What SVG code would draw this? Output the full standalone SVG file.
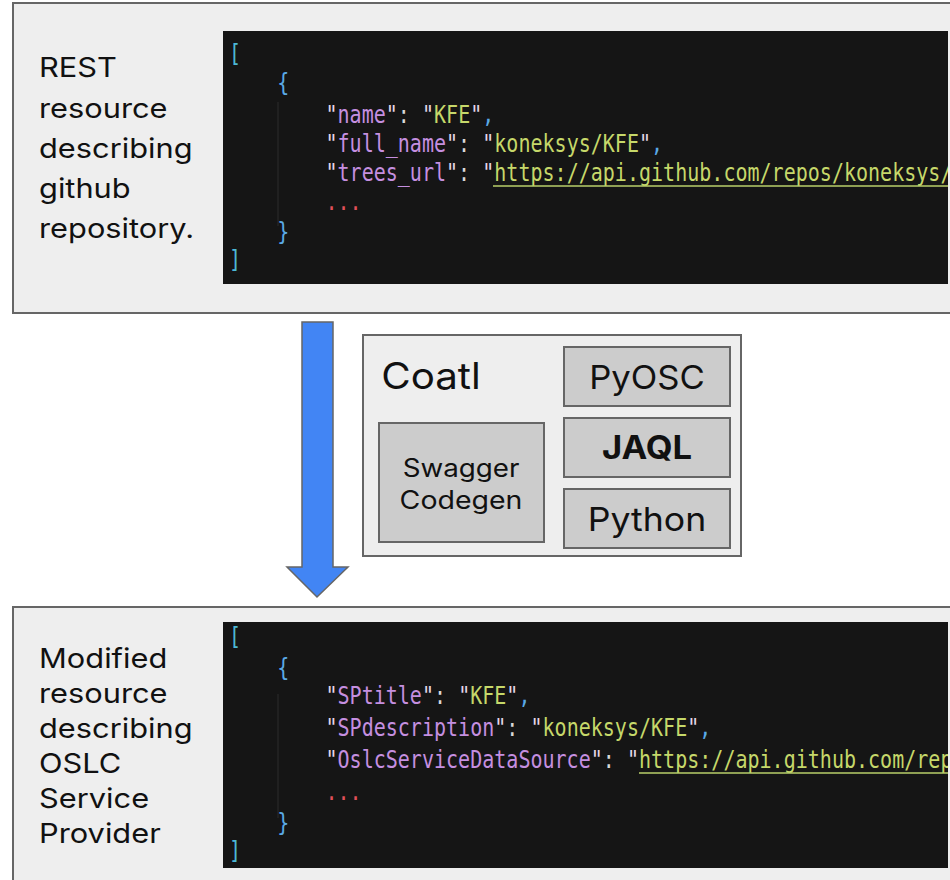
<svg xmlns="http://www.w3.org/2000/svg" width="950" height="880" viewBox="0 0 950 880">
<defs>
<style>
.panel{fill:#eeeeee;stroke:#666666;stroke-width:2}
.code{fill:#151515}
.lbl{font-family:Inter,"Open Sans","Liberation Sans",sans-serif;font-size:27.5px;fill:#111111}
.mono{font-family:"DejaVu Sans Mono","Liberation Mono",monospace;font-size:24px}
.br{fill:#4cb8d6}
.cb{fill:#5aa9e6}
.k{fill:#c58fe0}
.q{fill:#e3d6e6}
.s{fill:#c6d86a}
.p{fill:#d8d8d8}
.cm{fill:#5aa9e6}
.dots{fill:#e0505a}
.ul{stroke:#b9cf6a;stroke-width:1.5}
.guide{stroke:#2c2c2c;stroke-width:1}
.tool{fill:#cccccc;stroke:#666666;stroke-width:2}
.tt{font-family:Inter,"Open Sans","Liberation Sans",sans-serif;fill:#111111;text-anchor:middle}
</style>
<clipPath id="clipTop"><rect x="223" y="31" width="725" height="253"/></clipPath>
<clipPath id="clipBot"><rect x="223" y="622" width="725" height="246"/></clipPath>
</defs>
<rect width="950" height="880" fill="#ffffff"/>

<g id="rest-resource">
<rect class="panel" x="13" y="3" width="945" height="310"/>
<g transform="translate(39,0) scale(1.12,1)">
<text class="lbl" x="0" y="77">REST</text>
<text class="lbl" x="0" y="118">resource</text>
<text class="lbl" x="0" y="158">describing</text>
<text class="lbl" x="0" y="198">github</text>
<text class="lbl" x="0" y="238">repository.</text>
</g>
<rect class="code" x="223" y="31" width="725" height="253"/>
<g clip-path="url(#clipTop)">
<line class="guide" x1="278" y1="102" x2="278" y2="226"/>
<g transform="translate(229,0) scale(0.835,1)" class="mono">
<text y="62" xml:space="preserve"><tspan class="br">[</tspan></text>
<text y="91" xml:space="preserve"><tspan class="cb">    {</tspan></text>
<text y="123" xml:space="preserve">        <tspan class="q">"</tspan><tspan class="k">name</tspan><tspan class="q">"</tspan><tspan class="p">: </tspan><tspan class="q">"</tspan><tspan class="s">KFE</tspan><tspan class="q">"</tspan><tspan class="cm">,</tspan></text>
<text y="152" xml:space="preserve">        <tspan class="q">"</tspan><tspan class="k">full_name</tspan><tspan class="q">"</tspan><tspan class="p">: </tspan><tspan class="q">"</tspan><tspan class="s">koneksys/KFE</tspan><tspan class="q">"</tspan><tspan class="cm">,</tspan></text>
<text y="181" xml:space="preserve">        <tspan class="q">"</tspan><tspan class="k">trees_url</tspan><tspan class="q">"</tspan><tspan class="p">: </tspan><tspan class="q">"</tspan><tspan class="s">https://api.github.com/repos/koneksys/</tspan></text>
<text y="210" xml:space="preserve">        <tspan class="dots">...</tspan></text>
<text y="240" xml:space="preserve"><tspan class="cb">    }</tspan></text>
<text y="268" xml:space="preserve"><tspan class="br">]</tspan></text>
</g>
<line class="ul" x1="493" y1="186" x2="948" y2="186"/>
</g>
</g>

<g id="coatl">
<rect class="panel" x="363" y="335" width="378" height="221"/>
<text class="tt" transform="translate(431,389) scale(1.09,1)" x="0" y="0" style="font-size:37px">Coatl</text>
</g>
<g id="pyosc">
<rect class="tool" x="564" y="347" width="166" height="59"/>
<text class="tt" transform="translate(647,389) scale(1.05,1)" x="0" y="0" style="font-size:33px">PyOSC</text>
</g>
<g id="jaql">
<rect class="tool" x="564" y="418" width="166" height="59"/>
<text class="tt" transform="translate(647,459) scale(1.08,1)" x="0" y="0" style="font-size:32px;font-weight:bold">JAQL</text>
</g>
<g id="python">
<rect class="tool" x="564" y="489" width="166" height="59"/>
<text class="tt" transform="translate(647,531) scale(1.08,1)" x="0" y="0" style="font-size:33px">Python</text>
</g>
<g id="swagger-codegen">
<rect class="tool" x="379" y="423" width="165" height="119"/>
<text class="tt" transform="translate(461,477) scale(1.11,1)" x="0" y="0" style="font-size:25px">Swagger</text>
<text class="tt" transform="translate(461,509) scale(1.14,1)" x="0" y="0" style="font-size:25px">Codegen</text>
</g>

<g id="oslc-resource">
<rect class="panel" x="13" y="607" width="945" height="290"/>
<g transform="translate(39,0) scale(1.12,1)">
<text class="lbl" x="0" y="668">Modified</text>
<text class="lbl" x="0" y="703">resource</text>
<text class="lbl" x="0" y="738">describing</text>
<text class="lbl" x="0" y="773">OSLC</text>
<text class="lbl" x="0" y="808">Service</text>
<text class="lbl" x="0" y="843">Provider</text>
</g>
<rect class="code" x="223" y="622" width="725" height="246"/>
<g clip-path="url(#clipBot)">
<line class="guide" x1="278" y1="694" x2="278" y2="818"/>
<g transform="translate(229,0) scale(0.835,1)" class="mono">
<text y="645" xml:space="preserve"><tspan class="br">[</tspan></text>
<text y="676" xml:space="preserve"><tspan class="cb">    {</tspan></text>
<text y="704" xml:space="preserve">        <tspan class="q">"</tspan><tspan class="k">SPtitle</tspan><tspan class="q">"</tspan><tspan class="p">: </tspan><tspan class="q">"</tspan><tspan class="s">KFE</tspan><tspan class="q">"</tspan><tspan class="cm">,</tspan></text>
<text y="736" xml:space="preserve">        <tspan class="q">"</tspan><tspan class="k">SPdescription</tspan><tspan class="q">"</tspan><tspan class="p">: </tspan><tspan class="q">"</tspan><tspan class="s">koneksys/KFE</tspan><tspan class="q">"</tspan><tspan class="cm">,</tspan></text>
<text y="768" xml:space="preserve">        <tspan class="q">"</tspan><tspan class="k">OslcServiceDataSource</tspan><tspan class="q">"</tspan><tspan class="p">: </tspan><tspan class="q">"</tspan><tspan class="s">https://api.github.com/rep</tspan></text>
<text y="800" xml:space="preserve">        <tspan class="dots">...</tspan></text>
<text y="831" xml:space="preserve"><tspan class="cb">    }</tspan></text>
<text y="859" xml:space="preserve"><tspan class="br">]</tspan></text>
</g>
<line class="ul" x1="639" y1="773" x2="948" y2="773"/>
</g>
</g>

<g id="connectors">
<polygon points="302,322 333,322 333,567 348,567 317,597 287,567 302,567" fill="#4285f4" stroke="#666666" stroke-width="1.5" stroke-linejoin="miter"/>
</g>
</svg>
